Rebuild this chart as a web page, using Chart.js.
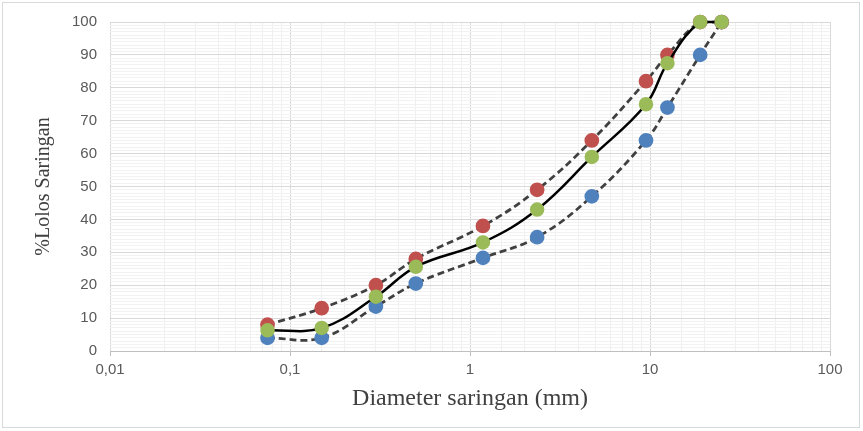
<!DOCTYPE html>
<html lang="id">
<head>
  <meta charset="UTF-8" />
  <title>Gradasi Agregat</title>
  <script src="https://cdn.jsdelivr.net/npm/chart.js"></script>
  <style>
    body {
      margin: 0;
      background: #fff;
    }
    #wrap {
      width: 863px;
      height: 431px;
      position: relative;
    }
  </style>
</head>
<body>
  <div id="wrap">
    <canvas id="chart" width="863" height="431"></canvas>
  </div>

  <script>
    // ukuran saringan (mm)
    const saringan = [0.075, 0.15, 0.3, 0.5, 1.18, 2.36, 4.75, 9.5, 12.5, 19, 25];
    // batas atas, batas bawah, gradasi rencana (% lolos)
    const batasAtas = [8, 13, 20, 28, 38, 49, 64, 82, 90, 100, 100];
    const batasBawah = [4, 4, 13.5, 20.5, 28.3, 34.6, 47, 64, 74, 90, 100];
    const gradasi = [6.3, 7, 16.5, 25.6, 33, 43, 59, 75, 87.5, 100, 100];
    const xTicks = [0.01, 0.1, 1, 10, 100];
    const xTickLabels = ['0,01', '0,1', '1', '10', '100'];

    const toPoints = vals => saringan.map((x, i) => ({ x: x, y: vals[i] }));

    const frame = {
      id: 'frame',
      afterDraw(chart) {
        const c = chart.ctx;
        c.save();
        c.strokeStyle = '#d9d9d9';
        c.lineWidth = 1;
        c.strokeRect(2.5, 2.5, 857, 425);
        c.restore();
      }
    };

    const isMajorX = v => xTicks.some(t => Math.abs(Math.log10(v) - Math.log10(t)) < 1e-6);

    new Chart(document.getElementById('chart'), {
      type: 'line',
      data: {
        datasets: [
          {
            label: 'Gradasi',
            data: toPoints(gradasi),
            borderColor: '#000',
            borderWidth: 2.5,
            pointBackgroundColor: '#9bbb59',
            pointBorderColor: '#9bbb59',
            pointRadius: 6,
            tension: 0.4,
            order: 0
          },
          {
            label: 'Batas atas',
            data: toPoints(batasAtas),
            borderColor: '#404040',
            borderWidth: 2.75,
            borderDash: [7, 4],
            pointBackgroundColor: '#c0504d',
            pointBorderColor: '#c0504d',
            pointRadius: 6,
            tension: 0.4,
            order: 1
          },
          {
            label: 'Batas bawah',
            data: toPoints(batasBawah),
            borderColor: '#404040',
            borderWidth: 2.75,
            borderDash: [7, 4],
            pointBackgroundColor: '#4f81bd',
            pointBorderColor: '#4f81bd',
            pointRadius: 6,
            tension: 0.4,
            order: 2
          }
        ]
      },
      options: {
        responsive: false,
        animation: false,
        clip: false,
        layout: { padding: { top: 19, right: 33, left: 0, bottom: 0 } },
        plugins: {
          legend: { display: false },
          tooltip: { enabled: false }
        },
        scales: {
          x: {
            type: 'logarithmic',
            min: 0.01,
            max: 100,
            afterFit(scale) { scale.height = 80; },
            grid: {
              color: ctx => isMajorX(ctx.tick.value) ? '#d9d9d9' : '#efefef',
              tickColor: ctx => isMajorX(ctx.tick.value) ? '#bfbfbf' : 'rgba(0,0,0,0)',
              tickLength: 5
            },
            border: { color: '#bfbfbf' },
            ticks: {
              autoSkip: false,
              maxRotation: 0,
              padding: 5,
              color: '#595959',
              font: { family: 'Liberation Sans', size: 15 },
              callback: function (v) {
                const i = xTicks.findIndex(t => Math.abs(Math.log10(v) - Math.log10(t)) < 1e-6);
                return i >= 0 ? xTickLabels[i] : '';
              }
            },
            title: {
              display: true,
              text: 'Diameter saringan (mm)',
              color: '#404040',
              font: { family: 'Liberation Serif', size: 24 },
              padding: { top: 0, bottom: 18 }
            }
          },
          y: {
            min: 0,
            max: 100,
            afterFit(scale) { scale.width = 110; },
            grid: {
              color: ctx => ctx.tick.value % 10 === 0 ? '#d9d9d9' : '#f2f2f2',
              drawTicks: false
            },
            border: { display: false },
            ticks: {
              stepSize: 1,
              autoSkip: false,
              padding: 13,
              color: '#595959',
              font: { family: 'Liberation Sans', size: 15 },
              callback: v => v % 10 === 0 ? String(v) : ''
            },
            title: {
              display: true,
              text: '%Lolos Saringan',
              color: '#404040',
              font: { family: 'Liberation Serif', size: 20 },
              padding: { top: 32, bottom: 0 }
            }
          }
        }
      },
      plugins: [frame]
    });
  </script>
</body>
</html>
